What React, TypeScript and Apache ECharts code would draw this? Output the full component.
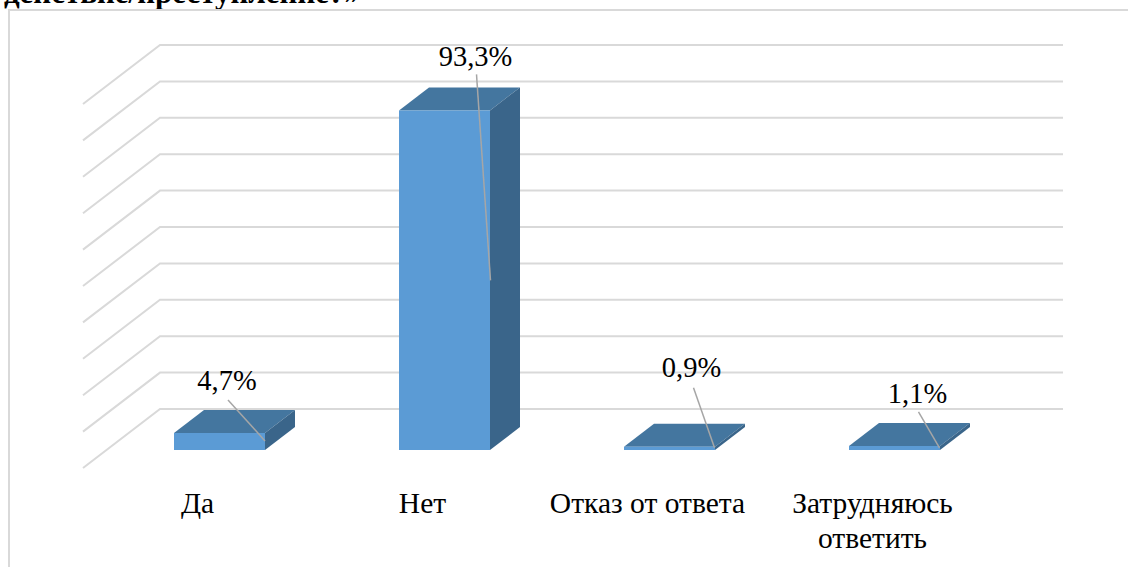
import React, { useEffect, useRef } from "react";
import * as echarts from "echarts";

const categories = ["Да", "Нет", "Отказ от ответа", "Затрудняюсь\nответить"];
const shares = [4.7, 93.3, 0.9, 1.1];
const shareLabels = ["4,7%", "93,3%", "0,9%", "1,1%"];
const valueTicks = [0, 10, 20, 30, 40, 50, 60, 70, 80, 90, 100];
const titleTail = "действие/преступление?»";

// Annotation layout, relative to the bar's front-top centre
const labelOffsets = [[7.5, -52], [31, -54], [22, -79], [23, -52]];
const leaderStarts = [[8.5, -33], [32, -36], [24, -59], [24, -34]];
const leaderEnds = [[45.5, 8], [46, 170], [45, 1], [45, 2]];

const FONT = "'Liberation Serif', 'Times New Roman', serif";
const FRONT = "#5B9BD5";
const TOP = "#44769F";
const SIDE = "#3A658A";
const GRID = "#D9D9D9";
const LEADER = "#A6A6A6";

const WALL = [77, -59];
const BAR_SHIFT = [24, -18];
const BAR_DEPTH = [30, -23];
const BAR_WIDTH = 91;

export default function App() {
  const ref = useRef<HTMLDivElement>(null);
  useEffect(() => {
    const chart = echarts.init(ref.current!, null, { renderer: "svg" });
    chart.setOption({
      animation: false,
      backgroundColor: "#ffffff",
      grid: { left: 83, top: 104, width: 900, height: 364 },
      xAxis: {
        type: "category",
        data: categories,
        axisLine: { show: false },
        axisTick: { show: false },
        splitLine: { show: false },
        axisLabel: {
          interval: 0,
          margin: 17,
          color: "#000000",
          fontFamily: FONT,
          fontSize: 29.5,
          lineHeight: 35,
          verticalAlign: "top",
          padding: [0, 0, 0, 4],
        },
      },
      yAxis: {
        type: "value",
        min: 0,
        max: 100,
        interval: 10,
        axisLine: { show: false },
        axisTick: { show: false },
        axisLabel: { show: false },
        splitLine: { show: false },
      },
      graphic: [
        {
          type: "text",
          z: 0,
          x: 360,
          y: -23,
          style: {
            text: titleTail,
            fill: "#000000",
            font: `bold 31px ${FONT}`,
            align: "right",
            verticalAlign: "top",
          },
        },
        {
          type: "rect",
          z: 1,
          shape: { x: 9, y: 10, width: 1300, height: 700 },
          style: { fill: "none", stroke: GRID, lineWidth: 2 },
        },
      ],
      series: [
        {
          type: "custom",
          name: "grid",
          coordinateSystem: "cartesian2d",
          silent: true,
          clip: false,
          z: 1,
          data: valueTicks.map((t) => [0, t]),
          renderItem: (params: any, api: any) => {
            const y = api.coord([0, api.value(1)])[1];
            const cs = params.coordSys;
            return {
              type: "polyline",
              shape: {
                points: [
                  [cs.x, y],
                  [cs.x + WALL[0], y + WALL[1]],
                  [cs.x + cs.width + WALL[0] + 3, y + WALL[1]],
                ],
              },
              style: { fill: "none", stroke: GRID, lineWidth: 2 },
            };
          },
        },
        {
          type: "custom",
          name: "share",
          coordinateSystem: "cartesian2d",
          silent: true,
          clip: false,
          z: 2,
          data: shares.map((v, i) => [i, v]),
          renderItem: (params: any, api: any) => {
            const i = params.dataIndex;
            const top = api.coord([i, api.value(1)]);
            const base = api.coord([i, 0]);
            const cx = top[0] + BAR_SHIFT[0];
            const x0 = cx - BAR_WIDTH / 2;
            const x1 = cx + BAR_WIDTH / 2;
            const yt = top[1] + BAR_SHIFT[1];
            const yb = base[1] + BAR_SHIFT[1];
            const [dx, dy] = BAR_DEPTH;
            const poly = (points: number[][], fill: string) => ({
              type: "polygon",
              shape: { points },
              style: { fill, stroke: "none" },
            });
            return {
              type: "group",
              children: [
                poly([[x0, yt], [x1, yt], [x1 + dx, yt + dy], [x0 + dx, yt + dy]], TOP),
                poly([[x1, yt], [x1 + dx, yt + dy], [x1 + dx, yb + dy], [x1, yb]], SIDE),
                poly([[x0, yt], [x1, yt], [x1, yb], [x0, yb]], FRONT),
                {
                  type: "line",
                  shape: {
                    x1: cx + leaderStarts[i][0],
                    y1: yt + leaderStarts[i][1],
                    x2: cx + leaderEnds[i][0],
                    y2: yt + leaderEnds[i][1],
                  },
                  style: { stroke: LEADER, lineWidth: 1.5 },
                },
                {
                  type: "text",
                  x: cx + labelOffsets[i][0],
                  y: yt + labelOffsets[i][1],
                  style: {
                    text: shareLabels[i],
                    fill: "#000000",
                    font: `28.5px ${FONT}`,
                    align: "center",
                    verticalAlign: "middle",
                  },
                },
              ],
            };
          },
        },
      ],
    });
    return () => chart.dispose();
  }, []);
  return (
    <div
      ref={ref}
      style={{ position: "absolute", left: 0, top: 0, width: 1128, height: 567 }}
    />
  );
}
